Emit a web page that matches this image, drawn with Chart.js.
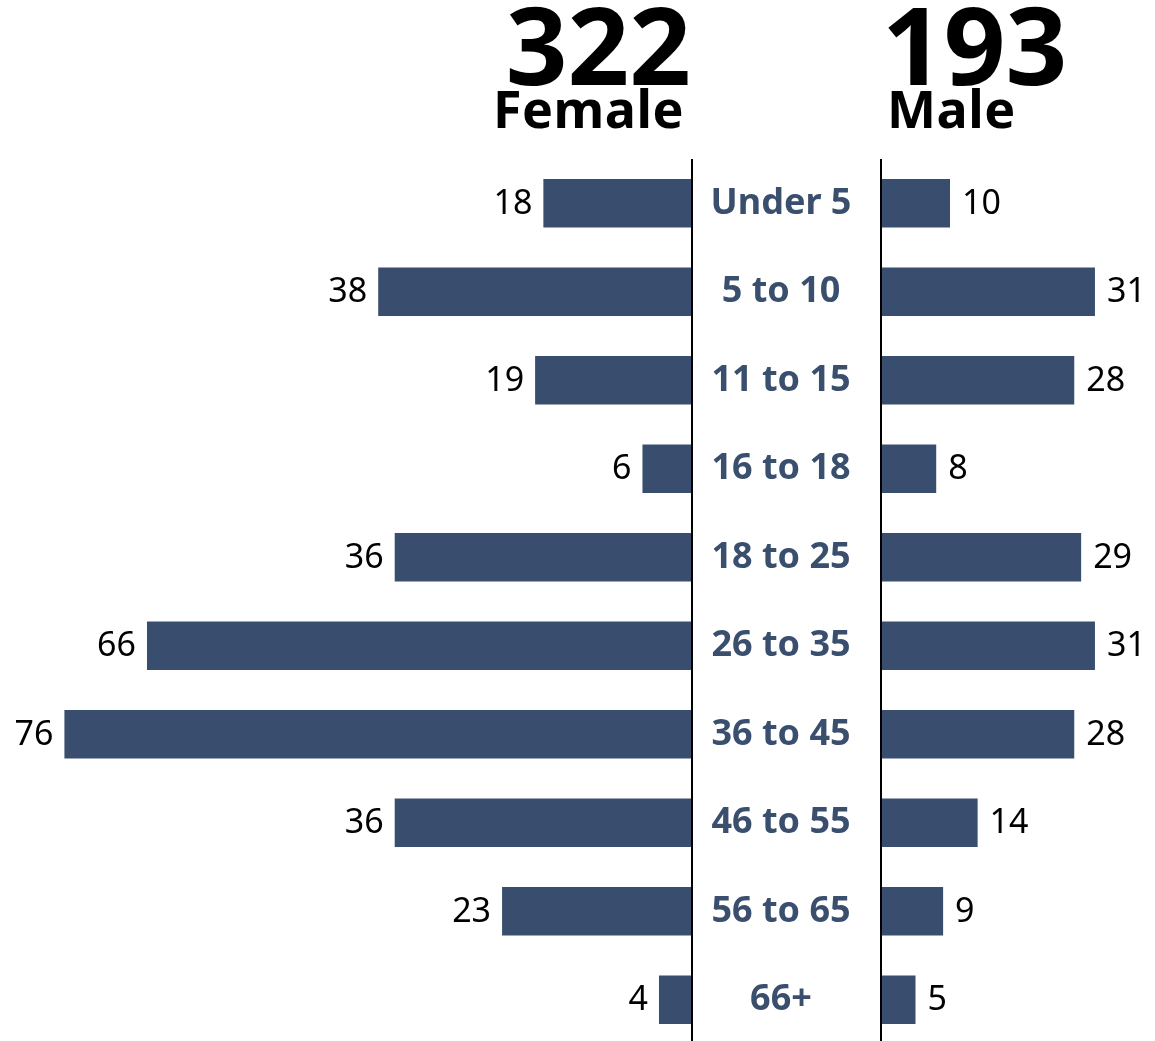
<!DOCTYPE html>
<html>
<head>
<meta charset="utf-8">
<script src="https://cdn.jsdelivr.net/npm/chart.js@4/dist/chart.umd.min.js"></script>
<style>
  body { margin: 0; background: #fff; width: 1155px; height: 1041px; overflow: hidden; position: relative; font-family: "Noto Sans", sans-serif; }
  .head { position: absolute; font-weight: 700; color: #000; line-height: 1; white-space: nowrap; }
  .big { font-size: 108px; }
  .sub { font-size: 52px; }
  #leftWrap { position: absolute; left: 0; top: 159px; width: 694px; height: 885px; }
  #rightWrap { position: absolute; left: 692px; top: 159px; width: 463px; height: 885px; }
</style>
</head>
<body>
<div class="head big" id="femTotal" style="right:464px; top:-10px;"></div>
<div class="head sub" style="right:471px; top:82px; letter-spacing:0.5px;">Female</div>
<div class="head big" id="maleTotal" style="left:882px; top:-10px;"></div>
<div class="head sub" style="left:887px; top:82px; letter-spacing:0.5px;">Male</div>

<div id="leftWrap"><canvas id="femaleChart"></canvas></div>
<div id="rightWrap"><canvas id="maleChart"></canvas></div>

<script>
// age groups, top to bottom
const ageGroups = ['Under 5', '5 to 10', '11 to 15', '16 to 18', '18 to 25', '26 to 35', '36 to 45', '46 to 55', '56 to 65', '66+'];
const femaleCounts = [18, 38, 19, 6, 36, 66, 76, 36, 23, 4];
const maleCounts = [10, 31, 28, 8, 29, 31, 28, 14, 9, 5];

const barColor = '#394e6e';
const labelColor = '#3a4f6e';

const sum = arr => arr.reduce((a, b) => a + b, 0);
document.getElementById('femTotal').textContent = sum(femaleCounts);
document.getElementById('maleTotal').textContent = sum(maleCounts);

// value labels next to the bar ends + the black zero line (+ age labels on the male side)
const barLabels = {
  id: 'barLabels',
  afterDatasetsDraw(chart, args, opts) {
    const ctx = chart.ctx;
    const meta = chart.getDatasetMeta(0);
    ctx.save();
    ctx.font = '34px "Noto Sans"';
    ctx.fillStyle = '#000';
    ctx.textBaseline = 'middle';
    ctx.textAlign = opts.side === 'left' ? 'right' : 'left';
    meta.data.forEach((bar, i) => {
      const v = chart.data.datasets[0].data[i];
      const x = opts.side === 'left' ? bar.x - 11 : bar.x + 12;
      ctx.fillText(v, x, bar.y + 1);
    });
    const x0 = chart.scales.x.getPixelForValue(0);
    if (opts.side === 'right') {
      ctx.font = 'bold 36px "Noto Sans"';
      ctx.fillStyle = labelColor;
      ctx.textAlign = 'center';
      meta.data.forEach((bar, i) => {
        ctx.fillText(chart.data.labels[i], x0 - 100, bar.y);
      });
    }
    // zero line
    ctx.strokeStyle = '#000';
    ctx.lineWidth = 2;
    ctx.beginPath();
    ctx.moveTo(x0, chart.chartArea.top);
    ctx.lineTo(x0, chart.chartArea.bottom);
    ctx.stroke();
    ctx.restore();
  }
};

Chart.defaults.font.family = '"Noto Sans", sans-serif';
Chart.defaults.animation = false;

new Chart(document.getElementById('femaleChart'), {
  type: 'bar',
  data: {
    labels: ageGroups,
    datasets: [{
      label: 'Female',
      data: femaleCounts,
      backgroundColor: barColor,
      barPercentage: 0.55,
      categoryPercentage: 1
    }]
  },
  options: {
    indexAxis: 'y',
    responsive: true,
    maintainAspectRatio: false,
    layout: { padding: { left: 0, right: 2, top: 0, bottom: 0 } },
    scales: {
      x: { display: false, reverse: true, min: 0, max: 83.8 },
      y: { display: false }
    },
    plugins: {
      legend: { display: false },
      tooltip: { enabled: false },
      barLabels: { side: 'left' }
    }
  },
  plugins: [barLabels]
});

new Chart(document.getElementById('maleChart'), {
  type: 'bar',
  data: {
    labels: ageGroups,
    datasets: [{
      label: 'Male',
      data: maleCounts,
      backgroundColor: barColor,
      barPercentage: 0.55,
      categoryPercentage: 1
    }]
  },
  options: {
    indexAxis: 'y',
    responsive: true,
    maintainAspectRatio: false,
    layout: { padding: { left: 189, right: 0, top: 0, bottom: 0 } },
    scales: {
      x: { display: false, min: 0, max: 39.7 },
      y: { display: false }
    },
    plugins: {
      legend: { display: false },
      tooltip: { enabled: false },
      barLabels: { side: 'right' }
    }
  },
  plugins: [barLabels]
});
</script>
</body>
</html>
